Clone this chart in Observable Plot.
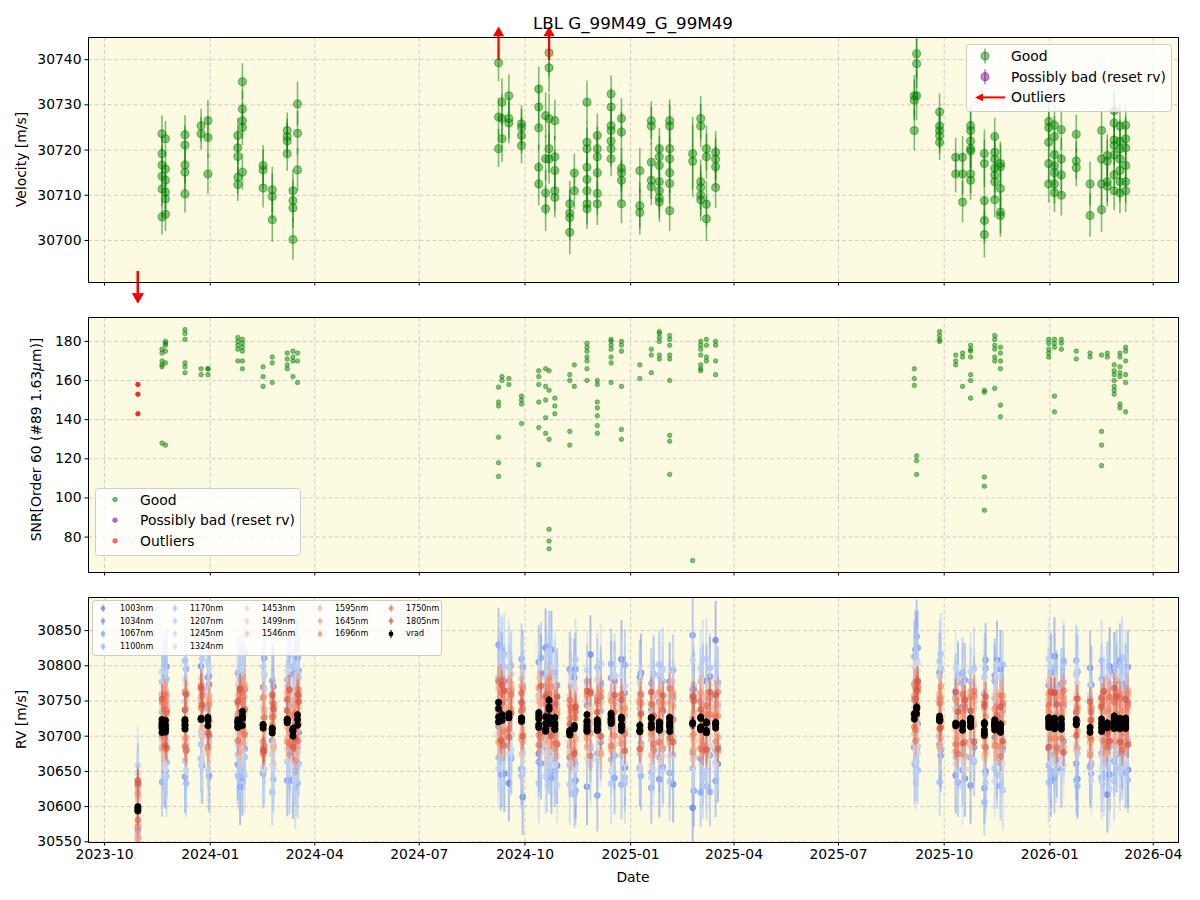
<!DOCTYPE html>
<html>
<head>
<meta charset="utf-8">
<script src="https://cdn.jsdelivr.net/npm/d3@7"></script>
<script src="https://cdn.jsdelivr.net/npm/@observablehq/plot@0.6"></script>
<style>
  body { margin: 0; background: #ffffff; font-family: "DejaVu Sans", sans-serif; }
  #fig { position: relative; width: 1200px; height: 900px; overflow: hidden; background: #ffffff; }
</style>
</head>
<body>
<div id="fig"></div>
<script>
// ---------------- data ----------------
const chartTitle = "LBL G_99M49_G_99M49";

// Observing nights
const nightDates = [
  "2023-10-30","2023-11-20","2023-11-23","2023-12-10","2023-12-24","2023-12-30","2024-01-25","2024-01-29",
  "2024-02-16","2024-02-24","2024-03-08","2024-03-13","2024-03-17","2024-09-08","2024-09-11","2024-09-17",
  "2024-09-28","2024-10-13","2024-10-19","2024-10-22","2024-10-27","2024-11-09","2024-11-13","2024-11-24",
  "2024-12-03","2024-12-15","2024-12-24","2025-01-09","2025-01-19","2025-01-26","2025-02-04","2025-02-24",
  "2025-03-03","2025-03-08","2025-03-16","2025-09-05","2025-09-07","2025-09-27","2025-10-11","2025-10-17",
  "2025-10-24","2025-11-05","2025-11-14","2025-11-19","2025-12-31","2026-01-05","2026-01-11","2026-01-24",
  "2026-02-05","2026-02-15","2026-02-20","2026-02-26","2026-03-03","2026-03-08"
];
// Companion exposures taken a few days after each night (per-band panel)
const nightDates2 = [
  "2023-10-30","2023-11-22","2023-11-24","2023-12-11","2023-12-25","2023-12-31","2024-01-27","2024-01-31",
  "2024-02-17","2024-02-25","2024-03-10","2024-03-15","2024-03-18","2024-09-10","2024-09-13","2024-09-19",
  "2024-09-29","2024-10-15","2024-10-20","2024-10-24","2024-10-29","2024-11-10","2024-11-14","2024-11-27",
  "2024-12-06","2024-12-18","2024-12-27","2025-01-10","2025-01-21","2025-01-29","2025-02-07","2025-02-25",
  "2025-03-05","2025-03-11","2025-03-18","2025-09-06","2025-09-08","2025-09-28","2025-10-13","2025-10-19",
  "2025-10-27","2025-11-06","2025-11-16","2025-11-21","2026-01-02","2026-01-07","2026-01-13","2026-01-25",
  "2026-02-06","2026-02-17","2026-02-22","2026-02-28","2026-03-05","2026-03-10"
];

// Good velocity measurements per night [m/s]
const vradByNight = [
  [],
  [30723.6, 30719.2, 30716.7, 30714.2, 30711.4, 30705.2],
  [30722.5, 30715.8, 30713.3, 30710.7, 30709.2, 30705.8],
  [30723.4, 30721.1, 30716.7, 30715.1, 30710.3],
  [30725.4, 30723.6],
  [30726.5, 30722.8, 30714.7],
  [30723.2, 30720.5, 30718.6, 30714.0, 30712.4],
  [30735.1, 30729.1, 30726.5, 30725.0, 30715.1],
  [30716.6, 30715.6, 30711.6],
  [30711.2, 30709.7, 30704.6],
  [30724.3, 30723.0, 30722.0, 30719.2],
  [30711.0, 30708.8, 30707.2, 30700.2],
  [30715.6, 30730.2, 30723.7],
  [30739.3, 30727.3, 30720.3],
  [30730.6, 30722.5, 30727.0],
  [30732.0, 30727.0, 30726.0],
  [30725.8, 30725.0, 30723.2, 30721.0],
  [30733.5, 30729.5, 30724.9, 30716.2, 30712.5],
  [30727.6, 30718.1, 30710.5, 30707.0],
  [30741.5, 30738.2, 30726.9, 30720.3, 30718.0],
  [30726.5, 30718.5, 30715.5, 30711.0, 30709.5],
  [30708.1, 30706.1, 30701.8, 30705.0],
  [30714.9, 30711.0],
  [30730.6, 30721.7, 30720.3, 30716.2, 30713.5, 30711.0, 30708.1, 30707.0],
  [30723.2, 30720.3, 30718.5, 30715.0, 30710.4, 30708.1],
  [30732.4, 30729.5, 30725.4, 30724.3, 30722.0, 30720.3, 30718.1],
  [30727.0, 30724.0, 30716.0, 30715.0, 30713.3, 30708.1],
  [30715.4, 30707.7, 30706.2],
  [30726.5, 30725.3, 30717.3, 30713.3, 30711.9],
  [30720.3, 30718.5, 30716.6, 30713.0, 30711.0, 30709.4, 30708.5],
  [30726.5, 30725.3, 30720.3, 30718.1, 30715.0, 30712.6, 30706.6],
  [30719.2, 30717.5],
  [30727.0, 30725.3, 30713.0, 30711.7, 30710.0, 30709.0],
  [30720.3, 30718.5, 30708.0, 30704.8],
  [30719.5, 30718.0, 30716.3, 30711.7],
  [30724.3, 30732.0, 30731.0],
  [30741.3, 30739.1, 30732.0],
  [30728.4, 30725.3, 30724.3, 30723.2, 30721.7],
  [30718.4, 30714.7],
  [30718.4, 30714.7, 30708.5],
  [30725.4, 30724.3, 30722.0, 30720.3, 30719.8, 30714.7, 30713.3],
  [30719.2, 30717.0, 30708.8, 30704.4, 30701.3],
  [30723.0, 30719.5, 30718.0, 30716.0, 30714.5, 30713.0, 30709.0],
  [30717.0, 30716.3, 30711.5, 30706.3, 30705.5],
  [30726.3, 30725.0, 30721.7, 30717.0, 30712.5],
  [30725.5, 30723.0, 30719.0, 30716.5, 30715.0, 30712.5, 30710.6],
  [30724.5, 30718.0, 30714.5, 30710.0],
  [30723.5, 30717.6, 30716.1],
  [30712.5, 30705.5],
  [30724.3, 30718.0, 30712.5, 30706.8],
  [30718.8, 30717.5, 30713.0, 30712.0],
  [30728.7, 30726.0, 30722.2, 30721.0, 30718.9, 30714.5, 30711.0],
  [30725.3, 30722.0, 30720.3, 30718.0, 30715.5, 30713.0, 30710.5],
  [30725.5, 30722.5, 30720.5, 30716.6, 30713.0, 30711.0]
];

// Typical velocity uncertainty per night [m/s]
const nightErr = [
  3.0, 4.0, 3.8, 4.2, 3.6, 4.5, 3.8, 4.0, 4.4, 5.0,
  3.9, 4.6, 4.8, 4.2, 5.2, 4.6, 4.0, 4.8, 5.0, 5.5,
  4.5, 5.0, 4.2, 4.6, 4.8, 4.0, 4.4, 5.0, 4.2, 4.5,
  4.6, 8.0, 4.8, 5.0, 4.6, 4.5, 5.5, 4.0, 4.2, 4.6,
  4.4, 5.2, 4.0, 4.8, 4.2, 4.4, 4.6, 4.2, 4.8, 5.0,
  4.6, 4.4, 4.6, 4.8
];

// SNR in order 60 per night
const snrByNight = [
  [],
  [168, 170, 176, 174, 128, 167],
  [180, 179, 178, 175, 127, 169],
  [186, 184, 181, 169, 167, 164],
  [166, 163],
  [166, 163, 166],
  [182, 180, 178, 176, 170],
  [181, 179, 177, 175, 166, 170],
  [167, 162, 157],
  [172, 169, 159],
  [174, 171, 166, 168],
  [172, 175, 170, 162],
  [174, 159, 170],
  [156.6, 149, 147, 131, 118, 111],
  [162, 160],
  [158, 161],
  [152, 150, 148, 138],
  [165, 162, 158, 149, 136, 117],
  [166, 157, 150, 141, 133],
  [165, 155, 130, 84, 78, 74],
  [151, 147, 143],
  [163, 160, 134, 127],
  [168, 157],
  [179, 177, 175, 172, 170, 166, 160],
  [160, 158, 149, 146, 142, 137, 133],
  [181, 180, 178, 176, 172, 169, 159],
  [180, 178, 175, 157, 135, 130],
  [168, 161],
  [176, 173, 164],
  [185, 184, 182, 180, 173, 171],
  [183, 181, 178, 173, 171, 160, 132, 129, 112],
  [68],
  [180, 178, 176, 173, 168, 166, 165],
  [181, 178, 172, 170],
  [180, 178, 170, 163],
  [166, 161, 157.5],
  [121.5, 119, 112],
  [185, 183, 181, 180],
  [173, 170, 168],
  [174, 172, 157],
  [178, 176, 175, 172, 163, 160, 151],
  [155, 154, 110.7, 106, 93.7],
  [183, 181, 178, 176, 172, 170, 156],
  [177, 174, 170, 166, 147.4, 141.5],
  [181, 179, 176, 174, 172],
  [181, 179, 177, 152, 144],
  [181, 179, 176],
  [175, 171],
  [174, 172],
  [173, 134, 127, 116.5],
  [174, 172],
  [168, 165, 163, 160, 157, 155, 153],
  [174, 172, 167, 164, 162, 148, 146],
  [177, 175, 170, 163, 159, 144]
];

// Rejected measurements
const outlierDates = ["2023-10-30", "2023-10-30", "2023-10-30", "2024-09-08", "2024-10-22"];
const outlierVrad  = [30597, 30594, 30600, 30748, 30751];
const outlierSnr   = [158, 153, 143, null, null];

// Per-band velocities, as offsets from the night's mean vrad [m/s]
const bandNames = ["1003nm","1034nm","1067nm","1100nm","1170nm","1207nm","1245nm","1324nm",
                   "1453nm","1499nm","1546nm","1595nm","1645nm","1696nm","1750nm","1805nm"];
const bandErr = [55, 52, 50, 48, 58, 55, 52, 48, 35, 32, 30, 26, 24, 22, 22, 20];
const bandColors = ["#5978e3","#6b8df0","#7da1fa","#91b3fe","#a3c2ff","#b5cefa","#c6d6f2","#d7dbe4",
                    "#e4d9d3","#efcfbd","#f6c2a9","#f7b194","#f59e7e","#ef886a","#e56f57","#d75444"];

// first exposure of each night
const b1003 = [-30,45,-62,20,75,-40,10,-85,55,-15,30,-70,88,-20,64,-95,12,-48,110,-60,25,-35,70,-88,40,-12,92,-55,18,-75,60,-120,35,-28,120,-45,8,66,-72,28,-90,50,-18,84,-38,96,-64,14,-52,40,-98,72,-22,58];
const b1034 = [-50,20,38,-75,30,62,-58,48,-22,70,-85,35,-40,96,-30,50,-70,82,-15,40,-66,90,-45,28,-100,58,-20,74,-92,36,-10,125,-48,66,-80,22,104,-36,48,-62,16,-84,70,-30,52,-76,30,-58,88,-40,66,-26,90,-70];
const b1067 = [35,-80,52,44,-56,18,72,-32,-68,40,58,-24,-90,46,-78,24,86,-60,42,95,-52,-20,34,62,-40,78,-86,30,56,-44,-70,48,-96,22,-36,84,-58,-24,40,76,-50,30,62,-82,20,-44,58,88,-30,-74,44,-56,36,24];
const b1100 = [-60,62,-20,90,-36,48,-74,26,40,-88,16,58,30,-64,94,-42,-80,34,-26,64,74,-46,-96,36,82,-58,26,-34,-70,88,40,-64,62,-84,44,-26,70,-90,22,-40,58,-104,38,12,-62,80,-36,-82,44,66,-48,30,-64,42];
const b1170 = [20,-34,78,-52,-18,84,-44,60,-36,24,-58,92,-28,50,-48,70,36,-90,68,-22,46,-74,56,-30,64,-92,40,50,-24,72,-82,44,20,96,-54,-68,34,82,-46,60,-26,74,-62,50,-86,36,-16,68,-54,92,20,-84,48,-38];
const b1207 = [-40,76,-46,32,58,-70,30,-52,84,-34,48,-26,64,-80,30,-22,58,44,-72,88,-34,52,-60,78,-50,36,-44,66,-78,30,54,-38,80,-62,26,46,-74,60,34,-86,72,-40,24,-66,90,-52,46,-32,64,-80,56,38,-70,76];
const b1245 = [50,-22,30,64,-66,40,-30,70,-58,54,-40,22,52,-34,-70,86,-50,28,48,-64,82,-28,-42,54,30,-74,68,-54,42,-30,-46,90,-30,48,64,-40,56,-28,80,-48,36,52,-80,42,-28,62,-70,34,50,-44,28,64,-36,-56];
const b1324 = [-20,46,-58,-24,40,-46,56,-18,28,-50,70,-44,36,20,-52,44,-28,60,-40,30,-56,40,24,-48,64,-30,-24,42,-60,50,28,-52,46,-36,-58,70,-22,30,-56,44,-66,24,44,-36,58,-30,-48,42,26,-60,70,-20,40,-50];
const b1453 = [-10,22,-30,12,34,-20,18,-36,26,8,-24,30,-14,40,-28,16,38,-20,10,-34,28,2,-26,36,-16,24,32,-30,14,-22,40,-18,24,30,-32,12,-26,34,20,-14,28,-38,16,30,-20,26,-12,36,-28,18,42,-24,10,30];
const b1499 = [10,-18,28,-26,16,36,-12,26,-30,20,34,-16,8,-30,30,-24,18,32,-22,40,-10,28,36,-18,20,-28,12,34,-20,26,-30,38,-14,22,30,-26,16,-20,36,24,-18,30,-26,14,38,-22,28,8,-32,24,30,-16,34,-10];
const b1546 = [-24,30,14,-20,24,8,40,-18,12,32,-26,20,44,-12,18,30,-22,26,36,-16,14,-28,24,40,-8,32,-18,20,28,-24,16,34,-22,44,12,26,-14,38,-20,22,30,10,-24,36,18,40,-16,24,32,-20,12,36,22,-14];
const b1595 = [-38,12,40,-20,26,-44,30,4,-28,46,-10,22,-36,34,8,-24,48,-6,18,-40,36,-14,28,-32,42,0,-22,38,-46,16,30,-18,44,-30,10,24,-42,34,-8,20,-34,40,2,-26,32,-12,46,-38,14,26,-20,38,-4,18];
const b1645 = [22,-30,36,-8,44,-38,14,30,-22,6,40,-16,26,-42,32,10,-28,46,-4,24,-34,38,2,-20,30,-44,20,42,-12,34,-26,8,46,-36,18,28,-10,-40,36,12,44,-24,22,-6,40,-32,16,34,-18,4,48,-28,28,-14];
const b1696 = [-26,34,-10,46,16,-36,28,-18,40,8,-30,24,44,-14,-40,36,12,-22,30,50,-8,20,-34,42,4,26,-28,38,-16,48,10,-42,32,18,-24,44,-6,28,-38,22,36,-12,-30,46,14,-20,40,6,-36,30,20,-10,42,-26];
const b1750 = [40,-14,24,-32,48,6,-24,36,-40,18,30,-8,-30,44,20,-18,38,-36,10,28,-26,46,14,-12,34,-38,42,0,26,-22,50,-4,-34,30,12,-16,40,22,-28,46,-6,32,8,-40,24,44,-20,16,-10,38,-30,28,36,-2];
const b1805 = [-4,38,-26,20,44,-16,32,8,-34,50,14,-22,36,2,46,-30,24,-10,40,-18,30,12,-38,48,18,-6,34,-28,44,6,-20,38,22,-32,42,0,28,-14,46,-24,16,36,-8,30,-36,44,10,-18,40,26,-12,48,-26,34];

// companion exposure of each night
const c1003 = [-55,70,24,-38,-66,52,-90,40,-28,62,-46,84,-18,58,-80,36,-110,66,-34,90,-58,30,-76,100,-24,54,-62,80,-40,22,-86,48,-30,72,-56,94,-20,-44,60,-74,38,-60,92,-28,70,-50,26,-80,64,-34,84,-46,36,-66];
const c1034 = [40,-64,86,-30,20,-78,58,-44,96,-22,66,-56,34,-88,50,-26,74,-62,30,-92,56,-40,82,-30,60,-84,44,-20,70,-58,36,-96,62,-40,28,-70,88,-52,24,66,-36,98,-54,30,-84,46,-24,72,-48,20,-70,58,-42,80];
const c1067 = [-72,30,-50,78,-24,64,-40,92,-62,28,-84,50,70,-36,26,-60,48,88,-74,34,-28,66,-90,44,20,-52,84,-66,38,-32,76,-48,30,-92,60,-26,42,72,-82,32,-56,86,-40,24,-70,54,90,-36,-62,46,-30,80,-58,28];
const c1100 = [26,-46,68,-84,42,-30,80,-56,20,-70,94,-40,-62,36,-26,72,-48,-20,60,-84,30,86,-52,-34,56,28,-76,46,-22,64,-44,30,-68,84,-30,50,-86,24,70,-42,36,-26,-72,90,-46,22,60,-90,32,-56,74,-24,50,-80];
const c1170 = [-34,58,-70,44,86,-26,-58,30,72,-48,36,-82,60,-22,90,-56,24,-38,78,-66,40,-28,96,-50,32,62,-84,26,-44,82,-20,54,-76,38,-30,68,-52,92,-36,24,76,-64,34,-88,52,-30,88,-44,20,-72,60,-36,94,-24];
const c1207 = [62,-28,40,-66,30,76,-44,-82,52,26,-60,38,-30,84,-52,60,-74,28,-40,66,-86,44,22,-58,88,-36,54,-24,70,-62,34,-48,94,-28,56,-80,30,-42,64,-24,50,-76,86,-32,40,-58,28,74,-46,36,-90,62,-26,44];
const c1245 = [-44,34,-20,56,-62,24,48,-36,74,-54,30,-70,44,58,-24,-48,66,-32,26,52,-44,70,-58,20,-36,60,-26,38,-66,80,24,-50,36,60,-40,28,-62,72,-30,46,-54,34,68,-22,-58,40,-34,56,-72,26,48,-44,64,-30];
const c1324 = [30,-40,52,-28,-54,36,-22,48,-62,24,-34,58,-46,30,44,-26,-50,36,62,-38,22,-44,54,-30,-20,46,-56,34,28,-42,60,-24,-40,50,32,-48,66,-26,38,-60,28,54,-32,-50,40,24,-58,36,-30,62,-44,30,-24,48];
const c1453 = [14,-26,32,-8,22,-30,36,6,-18,28,12,-32,24,-10,34,-24,18,4,-28,30,-14,38,-22,16,28,-34,10,26,-20,40,8,-26,30,-12,20,36,-28,14,-18,32,2,24,-30,18,-10,34,20,-24,30,6,-20,28,-32,16];
const c1499 = [-22,30,4,34,-16,24,-28,40,14,-20,30,18,-26,36,-4,22,-30,28,12,-18,34,-24,20,8,38,-14,26,-30,16,32,-20,10,36,-26,24,-8,30,20,-32,14,38,-18,22,28,-24,12,34,-10,18,-28,26,40,-14,22];
const c1546 = [20,-12,36,22,-26,30,14,-20,42,26,-8,34,18,-24,28,40,-14,22,-28,36,10,30,-18,24,44,-22,16,38,-10,30,24,-26,40,12,-18,32,26,-6,36,-24,20,42,-16,28,14,-20,38,22,-12,34,28,-22,18,40];
const c1595 = [18,-34,28,44,-12,36,-40,10,24,-26,42,-4,30,-38,16,46,-20,6,34,-30,22,40,-16,2,-42,32,12,-24,38,-8,26,-36,14,44,-18,4,36,-28,20,-44,30,8,42,-22,-2,34,-32,24,10,-40,40,-14,28,46];
const c1645 = [-42,26,8,-20,40,30,-28,46,-6,34,-36,18,42,-14,2,38,-32,24,44,-10,-26,32,12,48,-40,20,-8,36,6,-30,44,16,-22,28,-38,40,4,30,-16,36,-4,-34,26,46,-24,14,38,-12,32,-28,22,8,-36,42];
const c1696 = [32,-18,46,-36,14,24,-8,40,-30,20,6,-42,36,28,-20,10,44,-26,-4,38,16,-34,30,-12,48,-24,22,2,-38,34,40,-16,-28,42,12,-36,26,46,0,-22,38,18,-30,8,44,-40,30,20,-14,36,-6,42,-32,24];
const c1750 = [-16,44,20,-38,34,0,48,-24,12,38,-32,26,-6,46,-40,30,16,-18,42,4,-28,36,22,-44,40,10,-14,50,-30,24,6,38,-36,18,46,-20,32,-2,-42,28,44,-26,14,36,-8,-34,48,2,26,-22,40,12,-38,30];
const c1805 = [36,8,-30,42,20,-20,50,12,-36,30,44,-10,26,-40,38,4,-24,48,16,-32,40,-4,28,46,-16,34,-38,22,10,44,-26,32,0,50,-34,24,40,-12,18,38,-28,46,6,-18,42,28,-40,34,14,48,-22,36,2,-30];

const bandResiduals  = [b1003,b1034,b1067,b1100,b1170,b1207,b1245,b1324,b1453,b1499,b1546,b1595,b1645,b1696,b1750,b1805];
const bandResiduals2 = [c1003,c1034,c1067,c1100,c1170,c1207,c1245,c1324,c1453,c1499,c1546,c1595,c1645,c1696,c1750,c1805];

// Axes
const xTickLabels = ["2023-10","2024-01","2024-04","2024-07","2024-10","2025-01","2025-04","2025-07","2025-10","2026-01","2026-04"];
const velTicks = [30700, 30710, 30720, 30730, 30740];
const snrTicks = [80, 100, 120, 140, 160, 180];
const rvTicks  = [30550, 30600, 30650, 30700, 30750, 30800, 30850];
const xDomainDates = ["2023-09-17", "2026-04-23"];
const velDomain = [30690.7, 30744.9];
const snrDomain = [61.9, 192.2];
const rvDomain  = [30549, 30897];

const statusLabels = ["Good", "Possibly bad (reset rv)", "Outliers"];

// ---------------- tables ----------------
const parseDay = d3.utcParse("%Y-%m-%d");
const parseMonth = d3.utcParse("%Y-%m");
const xTicks = xTickLabels.map(parseMonth);
const xDomain = xDomainDates.map(parseDay);

const good = nightDates.flatMap((d, i) =>
  vradByNight[i].map(v => ({date: parseDay(d), vrad: v, err: nightErr[i]})));
const snrRows = nightDates.flatMap((d, i) =>
  snrByNight[i].map(s => ({date: parseDay(d), snr: s})));
const outliers = outlierDates.map((d, i) =>
  ({day: d, date: parseDay(d), vrad: outlierVrad[i], snr: outlierSnr[i],
    err: nightErr[Math.max(0, nightDates.indexOf(d))]}));

const nightRef = nightDates.map((d, i) =>
  d3.mean([...vradByNight[i], ...outliers.filter(o => o.day === d).map(o => o.vrad)]));

const bandRowsA = bandNames.map((name, j) =>
  bandResiduals[j].map((r, i) => ({date: parseDay(nightDates[i]), v: nightRef[i] + r, err: bandErr[j]})));
const bandRowsB = bandNames.map((name, j) =>
  bandResiduals2[j].map((r, i) => ({date: parseDay(nightDates2[i]), v: nightRef[i] + r, err: bandErr[j]})));

const allVrad = [...good, ...outliers];

// Arrows marking velocities beyond the top panel's range
const vSpan = velDomain[1] - velDomain[0];
const arrowRows = outliers
  .filter(o => o.vrad > velDomain[1] || o.vrad < velDomain[0])
  .map(o => {
    const up = o.vrad > velDomain[1];
    return {
      date: o.date, up,
      y1: up ? velDomain[1] - 0.094 * vSpan : velDomain[0] + 0.045 * vSpan,
      y2: up ? velDomain[1] + 0.012 * vSpan : velDomain[0] - 0.052 * vSpan,
      tip: up ? velDomain[1] + 0.018 * vSpan : velDomain[0] - 0.058 * vSpan
    };
  });

// ---------------- plotting ----------------
const FONT = "'DejaVu Sans', sans-serif";
const BG = "#fcfae0";
const plotStyle = {fontFamily: FONT, fontSize: "13.9px", background: "transparent", overflow: "visible", color: "black"};

function scaffold(yTicks) {
  return [
    Plot.frame({fill: BG}),
    Plot.gridX(xTicks, {stroke: "#b0b0b0", strokeOpacity: 0.75, strokeWidth: 0.8, strokeDasharray: "4,2.5"}),
    Plot.gridY(yTicks, {stroke: "#b0b0b0", strokeOpacity: 0.75, strokeWidth: 0.8, strokeDasharray: "4,2.5"})
  ];
}
function axes(yTicks, withXLabels) {
  return [
    Plot.axisX(xTicks, {tickSize: 3.5, tickPadding: 3.5, strokeWidth: 1,
      tickFormat: withXLabels ? d3.utcFormat("%Y-%m") : () => "", label: null}),
    Plot.axisY(yTicks, {tickSize: 3.5, tickPadding: 3.5, strokeWidth: 1,
      tickFormat: d => String(d), label: null}),
    Plot.frame({stroke: "black", strokeWidth: 1})
  ];
}

const fig = document.getElementById("fig");
function place(svg, top) {
  svg.style.position = "absolute";
  svg.style.left = "0px";
  svg.style.top = top + "px";
  fig.appendChild(svg);
}

// Panel 1: velocity
const p1 = Plot.plot({
  width: 1200, height: 310,
  marginTop: 37, marginBottom: 28, marginLeft: 88, marginRight: 22,
  style: plotStyle,
  x: {type: "utc", domain: xDomain, label: null},
  y: {domain: velDomain, label: null},
  marks: [
    ...scaffold(velTicks),
    Plot.ruleX(good, {x: "date", y1: d => d.vrad - d.err, y2: d => d.vrad + d.err,
      stroke: "green", strokeOpacity: 0.5, strokeWidth: 1.6, clip: true}),
    Plot.dot(good, {x: "date", y: "vrad", r: 4, fill: "green", fillOpacity: 0.45,
      stroke: "green", strokeOpacity: 0.45, strokeWidth: 1.2, clip: true}),
    Plot.ruleX(arrowRows, {x: "date", y1: "y1", y2: "y2", stroke: "red", strokeWidth: 2.2}),
    Plot.dot(arrowRows, {x: "date", y: "tip", symbol: "triangle", r: 4.2, fill: "red", stroke: "none",
      rotate: d => d.up ? 0 : 180}),
    ...axes(velTicks, false)
  ]
});
place(p1, 0);

// Panel 2: SNR
const p2 = Plot.plot({
  width: 1200, height: 280,
  marginTop: 7, marginBottom: 18, marginLeft: 88, marginRight: 22,
  style: plotStyle,
  x: {type: "utc", domain: xDomain, label: null},
  y: {domain: snrDomain, label: null},
  marks: [
    ...scaffold(snrTicks),
    Plot.dot(snrRows, {x: "date", y: "snr", r: 2.3, fill: "green", fillOpacity: 0.5,
      stroke: "green", strokeOpacity: 0.5, strokeWidth: 0.8, clip: true}),
    Plot.dot(outliers.filter(o => o.snr != null), {x: "date", y: "snr", r: 2.3, fill: "red", fillOpacity: 0.8,
      stroke: "red", strokeOpacity: 0.8, strokeWidth: 0.8, clip: true}),
    ...axes(snrTicks, false)
  ]
});
place(p2, 310);

// Panel 3: per-band RV, bands drawn from blue to red, then the combined vrad
const bandMarks = bandNames.flatMap((name, j) => [bandRowsA[j], bandRowsB[j]].flatMap(rows => [
  Plot.ruleX(rows, {x: "date", y1: d => d.v - d.err, y2: d => d.v + d.err,
    stroke: bandColors[j], strokeOpacity: 0.45, strokeWidth: 2, clip: true}),
  Plot.dot(rows, {x: "date", y: "v", r: 3, fill: bandColors[j], fillOpacity: 0.65,
    stroke: bandColors[j], strokeOpacity: 0.6, strokeWidth: 0.8, clip: true})
]));
const p3 = Plot.plot({
  width: 1200, height: 310,
  marginTop: 7, marginBottom: 58, marginLeft: 88, marginRight: 22,
  style: plotStyle,
  x: {type: "utc", domain: xDomain, label: null},
  y: {domain: rvDomain, label: null},
  marks: [
    ...scaffold(rvTicks),
    ...bandMarks,
    Plot.ruleX(allVrad, {x: "date", y1: d => d.vrad - d.err, y2: d => d.vrad + d.err,
      stroke: "black", strokeWidth: 1.5, clip: true}),
    Plot.dot(allVrad, {x: "date", y: "vrad", r: 3.2, fill: "black", stroke: "black", strokeWidth: 0.6, clip: true}),
    ...axes(rvTicks, true)
  ]
});
place(p3, 590);

// ---------------- titles, labels, legends ----------------
const ov = d3.select(fig).append("svg")
  .attr("width", 1200).attr("height", 900)
  .style("position", "absolute").style("left", "0px").style("top", "0px")
  .style("pointer-events", "none")
  .attr("font-family", FONT);

ov.append("text").attr("x", 633).attr("y", 29).attr("text-anchor", "middle")
  .attr("font-size", "16.7px").text(chartTitle);

ov.append("text").attr("x", 633).attr("y", 882).attr("text-anchor", "middle")
  .attr("font-size", "13.9px").text("Date");

function yLabel(x, y, build) {
  const t = ov.append("text").attr("transform", `translate(${x},${y}) rotate(-90)`)
    .attr("text-anchor", "middle").attr("dominant-baseline", "central").attr("font-size", "13.9px");
  build(t);
}
yLabel(21, 159.5, t => t.text("Velocity [m/s]"));
yLabel(36, 439.5, t => {
  t.append("tspan").text("SNR[Order 60 (#89 1.63");
  t.append("tspan").attr("font-style", "italic").text("μ");
  t.append("tspan").text("m)]");
});
yLabel(21, 719.5, t => t.text("RV [m/s]"));

// Legend of the velocity panel
const statusColors = ["green", "purple", "red"];
const lg1 = ov.append("g");
lg1.append("rect").attr("x", 966.5).attr("y", 44.5).attr("width", 205).attr("height", 67).attr("rx", 3)
  .attr("fill", "white").attr("fill-opacity", 0.8).attr("stroke", "#cccccc");
statusLabels.forEach((label, i) => {
  const y = 56 + i * 20.7;
  if (i < 2) {
    lg1.append("line").attr("x1", 985).attr("x2", 985).attr("y1", y - 7.5).attr("y2", y + 7.5)
      .attr("stroke", statusColors[i]).attr("stroke-opacity", 0.5).attr("stroke-width", 1.6);
    lg1.append("circle").attr("cx", 985).attr("cy", y).attr("r", 4)
      .attr("fill", statusColors[i]).attr("fill-opacity", 0.45)
      .attr("stroke", statusColors[i]).attr("stroke-opacity", 0.45).attr("stroke-width", 1.2);
  } else {
    lg1.append("line").attr("x1", 1005).attr("x2", 981).attr("y1", y).attr("y2", y)
      .attr("stroke", "red").attr("stroke-width", 2);
    lg1.append("path").attr("d", `M975,${y} L983,${y - 3.8} L983,${y + 3.8} Z`).attr("fill", "red");
  }
  lg1.append("text").attr("x", 1011).attr("y", y).attr("dominant-baseline", "central")
    .attr("font-size", "13.9px").text(label);
});

// Legend of the SNR panel
const lg2 = ov.append("g");
lg2.append("rect").attr("x", 95.5).attr("y", 488.5).attr("width", 205).attr("height", 67).attr("rx", 3)
  .attr("fill", "white").attr("fill-opacity", 0.8).attr("stroke", "#cccccc");
statusLabels.forEach((label, i) => {
  const y = 499.5 + i * 20.7;
  lg2.append("circle").attr("cx", 115).attr("cy", y).attr("r", 2.3)
    .attr("fill", statusColors[i]).attr("fill-opacity", 0.55)
    .attr("stroke", statusColors[i]).attr("stroke-opacity", 0.55).attr("stroke-width", 0.8);
  lg2.append("text").attr("x", 140).attr("y", y).attr("dominant-baseline", "central")
    .attr("font-size", "13.9px").text(label);
});

// Legend of the per-band panel (5 columns, filled column by column)
const lg3 = ov.append("g");
lg3.append("rect").attr("x", 92.5).attr("y", 600.5).attr("width", 349).attr("height", 55).attr("rx", 2.5)
  .attr("fill", "white").attr("fill-opacity", 0.8).attr("stroke", "#cccccc");
const legendEntries = [...bandNames.map((n, j) => ({label: n, color: bandColors[j], alpha: 0.65})),
                       {label: "vrad", color: "black", alpha: 1}];
const colSizes = [4, 4, 3, 3, 3];
const colMarkX = [103, 175, 247, 320, 391];
const colTextX = [120, 190, 262, 335, 406];
let k = 0;
colSizes.forEach((n, c) => {
  for (let r = 0; r < n; r++, k++) {
    const e = legendEntries[k];
    const y = 608.3 + r * 12.8;
    lg3.append("line").attr("x1", colMarkX[c]).attr("x2", colMarkX[c]).attr("y1", y - 4).attr("y2", y + 4)
      .attr("stroke", e.color).attr("stroke-opacity", e.alpha * 0.8).attr("stroke-width", 1.4);
    lg3.append("circle").attr("cx", colMarkX[c]).attr("cy", y).attr("r", 2.4)
      .attr("fill", e.color).attr("fill-opacity", e.alpha);
    lg3.append("text").attr("x", colTextX[c]).attr("y", y).attr("dominant-baseline", "central")
      .attr("font-size", "8px").text(e.label);
  }
});
</script>
</body>
</html>
